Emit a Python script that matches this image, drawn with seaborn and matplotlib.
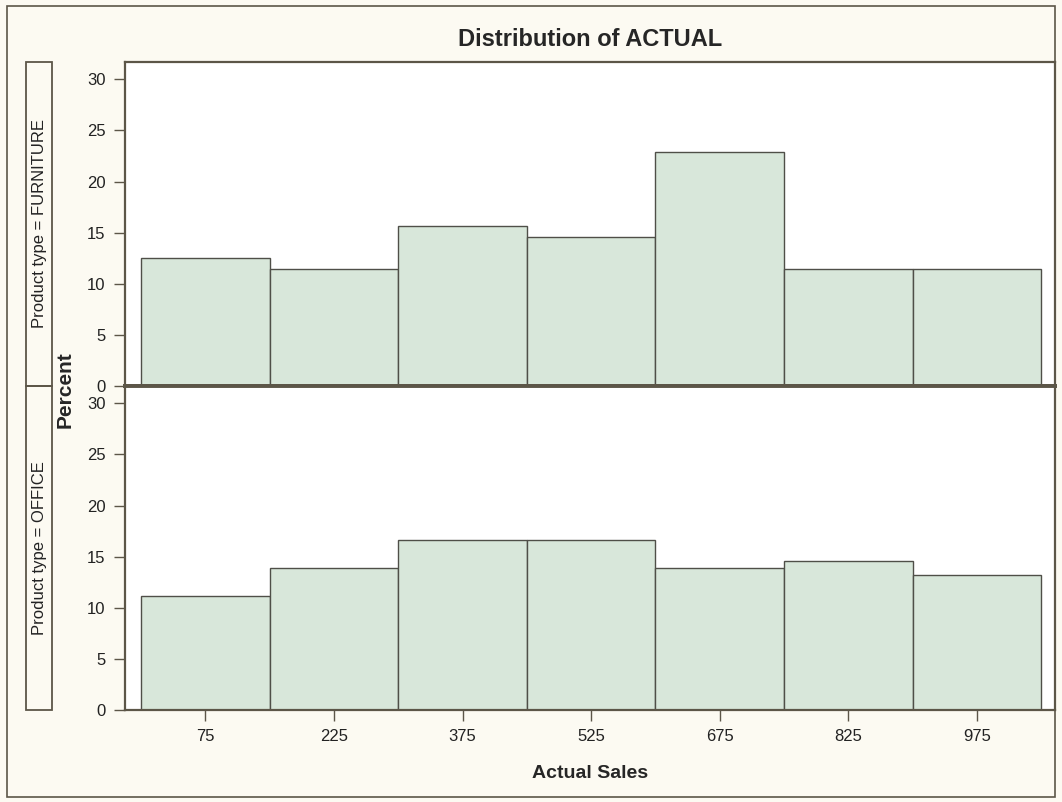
import matplotlib
matplotlib.use("Agg")
import matplotlib.pyplot as plt
import seaborn as sns
import pandas as pd
from matplotlib.patches import Rectangle

sns.set_style("ticks")
plt.rcParams['font.family'] = ['Liberation Sans', 'DejaVu Sans']

# bins of Actual Sales (width 150) and percent per bin
bin_edges = [0, 150, 300, 450, 600, 750, 900, 1050]
bin_mids = [75, 225, 375, 525, 675, 825, 975]
furniture_pct = [12.50, 11.46, 15.63, 14.58, 22.92, 11.46, 11.46]
office_pct = [11.11, 13.89, 16.67, 16.67, 13.89, 14.58, 13.19]
panels = ["FURNITURE", "OFFICE"]

df = pd.concat([
    pd.DataFrame({"ACTUAL": bin_mids, "pct": furniture_pct, "type": "FURNITURE"}),
    pd.DataFrame({"ACTUAL": bin_mids, "pct": office_pct, "type": "OFFICE"}),
])

bg = '#fcfaf2'
bar_fill = '#d8e7da'
bar_edge = '#4f4f48'
spine_col = '#5c5648'

W, H = 1062, 802
fig = plt.figure(figsize=(W / 100, H / 100), dpi=100)
fig.patch.set_facecolor(bg)

def fx(px):
    return px / W

def fy(py):
    return 1 - py / H

# outer frame
fig.patches.append(Rectangle((fx(7), fy(797)), fx(1055) - fx(7), fy(6) - fy(797),
                             transform=fig.transFigure, fill=False, edgecolor=spine_col, lw=1.2))

left, right = 125, 1055
tops = [62, 386]
bottoms = [386, 710]
axes = []
for i, name in enumerate(panels):
    ax = fig.add_axes([fx(left), fy(bottoms[i]), fx(right) - fx(left), fy(tops[i]) - fy(bottoms[i])])
    ax.set_facecolor('white')
    sns.histplot(data=df[df["type"] == name], x="ACTUAL", weights="pct", bins=bin_edges,
                 color=bar_fill, edgecolor=bar_edge, linewidth=1.0, alpha=1, ax=ax)
    ax.set_xlim(-18.7, 1066)
    ax.set_ylim(0, 31.7)
    ax.set_yticks([0, 5, 10, 15, 20, 25, 30])
    ax.set_xticks(bin_mids)
    ax.set_ylabel("")
    ax.set_xlabel("")
    for s in ax.spines.values():
        s.set_visible(True)
        s.set_color(spine_col)
        s.set_linewidth(1.6)
    ax.tick_params(axis='y', length=8, width=1, color=spine_col, labelsize=12, pad=6, labelcolor='#222222')
    ax.tick_params(axis='x', length=8, width=1, color=spine_col, labelsize=12, pad=6, labelcolor='#222222')
    axes.append(ax)

    # strip label box
    fig.patches.append(Rectangle((fx(26), fy(bottoms[i])), fx(52) - fx(26), fy(tops[i]) - fy(bottoms[i]),
                                 transform=fig.transFigure, fill=False, edgecolor=spine_col, lw=1.3))
    fig.text(fx(40), (fy(tops[i]) + fy(bottoms[i])) / 2, f"Product type = {name}",
             rotation=90, ha='center', va='center', fontsize=12, color='#222222')

axes[0].tick_params(axis='x', bottom=False, labelbottom=False)
axes[0].spines['bottom'].set_linewidth(2.8)
axes[1].spines['top'].set_linewidth(2.8)

fig.text(fx(590), fy(39), "Distribution of ACTUAL", ha='center', va='center',
         fontsize=17, fontweight='bold')
fig.text(fx(65), fy(390), "Percent", rotation=90, ha='center', va='center',
         fontsize=15, fontweight='bold')
fig.text(fx(590), fy(773), "Actual Sales", ha='center', va='center',
         fontsize=14, fontweight='bold')

fig.savefig("out.png", dpi=100, facecolor=bg)
